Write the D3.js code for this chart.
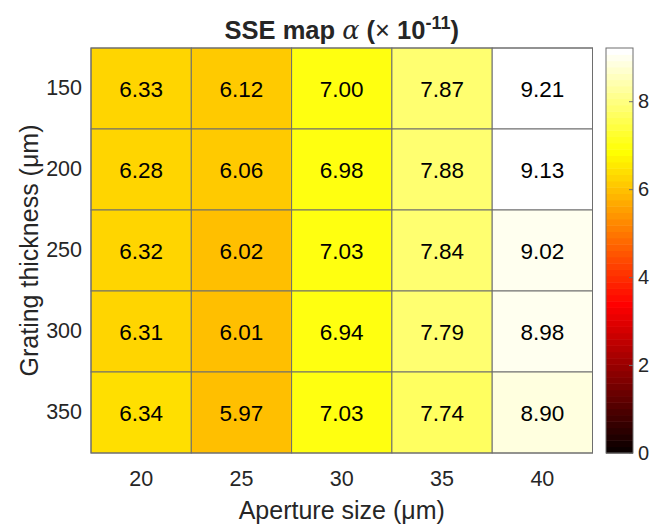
<!DOCTYPE html>
<html lang="en">
<head>
<meta charset="UTF-8">
<title>SSE map</title>
<style>
body{margin:0;background:#fff;}
svg text{font-family:"Liberation Sans",Arial,sans-serif;fill:#262626;}
</style>
</head>
<body>
<div id="chart"></div>
<script src="https://d3js.org/d3.v7.min.js"></script>
<script>
var apertures = ['20','25','30','35','40'];
var thickness = ['150','200','250','300','350'];
var sse = [
	[6.33, 6.12, 7.00, 7.87, 9.21],
	[6.28, 6.06, 6.98, 7.88, 9.13],
	[6.32, 6.02, 7.03, 7.84, 9.02],
	[6.31, 6.01, 6.94, 7.79, 8.98],
	[6.34, 5.97, 7.03, 7.74, 8.90]
];
var cbTicks = [0, 2, 4, 6, 8];

var W = 651, H = 524;
var plot = {left: 91, top: 48, right: 592.5, bottom: 453};
var cb = {left: 606, right: 633};

var svg = d3.select('#chart').append('svg')
	.attr('width', W).attr('height', H);

var cmax = d3.max(sse, function(r){ return d3.max(r); });

// matlab hot(64)
var m = 64, n = Math.floor(3 / 8 * m);
var hot = d3.range(m).map(function(i){
	var k = i + 1;
	var r = k <= n ? k / n : 1;
	var g = k <= n ? 0 : (k <= 2 * n ? (k - n) / n : 1);
	var b = k <= 2 * n ? 0 : (k - 2 * n) / (m - 2 * n);
	return d3.rgb(r * 255, g * 255, b * 255).toString();
});
function colorOf(v){
	var idx = Math.min(m - 1, Math.floor(v / cmax * m));
	return hot[Math.max(0, idx)];
}

var x = d3.scaleBand().domain(apertures).range([plot.left, plot.right]);
var y = d3.scaleBand().domain(thickness).range([plot.top, plot.bottom]);

var cells = [];
sse.forEach(function(row, i){
	row.forEach(function(v, j){
		cells.push({t: thickness[i], a: apertures[j], v: v});
	});
});

svg.append('g').selectAll('rect')
	.data(cells).enter().append('rect')
	.attr('x', function(d){ return x(d.a); })
	.attr('y', function(d){ return y(d.t); })
	.attr('width', x.bandwidth())
	.attr('height', y.bandwidth())
	.style('fill', function(d){ return colorOf(d.v); })
	.style('stroke', '#6e6e6e')
	.style('stroke-width', 1);

svg.append('g').selectAll('text')
	.data(cells).enter().append('text')
	.attr('x', function(d){ return x(d.a) + x.bandwidth() / 2; })
	.attr('y', function(d){ return y(d.t) + y.bandwidth() / 2; })
	.attr('dy', '0.36em')
	.attr('text-anchor', 'middle')
	.style('font-size', '22.5px')
	.style('fill', '#000')
	.text(function(d){ return d.v.toFixed(2); });

svg.append('rect')
	.attr('x', plot.left).attr('y', plot.top)
	.attr('width', plot.right - plot.left).attr('height', plot.bottom - plot.top)
	.style('fill', 'none').style('stroke', '#6e6e6e');

// axes
var xAxis = svg.append('g')
	.attr('transform', 'translate(0,' + plot.bottom + ')')
	.call(d3.axisBottom(x).tickSize(0).tickPadding(18));
xAxis.select('.domain').remove();
xAxis.selectAll('text').style('font-size', '21.5px').style('fill', '#262626');

var yAxis = svg.append('g')
	.attr('transform', 'translate(' + plot.left + ',0)')
	.call(d3.axisLeft(y).tickSize(0).tickPadding(9));
yAxis.select('.domain').remove();
yAxis.selectAll('text').style('font-size', '21.5px').style('fill', '#262626');

svg.append('text')
	.attr('x', (plot.left + plot.right) / 2).attr('y', 519)
	.attr('text-anchor', 'middle')
	.style('font-size', '25px')
	.text('Aperture size (μm)');

svg.append('text')
	.attr('transform', 'translate(38,' + (plot.top + plot.bottom) / 2 + ') rotate(-90)')
	.attr('text-anchor', 'middle')
	.style('font-size', '25px')
	.text('Grating thickness (μm)');

var title = svg.append('text')
	.attr('x', (plot.left + plot.right) / 2).attr('y', 39)
	.attr('text-anchor', 'middle')
	.style('font-size', '25.5px')
	.style('font-weight', 'bold');
title.append('tspan').text('SSE map ');
title.append('tspan').style('font-family', '"DejaVu Serif",serif').style('font-style', 'italic').style('font-weight', 'normal').text('α');
title.append('tspan').text(' (');
title.append('tspan').style('font-weight', 'normal').text('×');
title.append('tspan').text(' 10');
title.append('tspan').attr('dy', -10).style('font-size', '18px').text('-11');
title.append('tspan').attr('dy', 10).text(')');

// colorbar
var cy = d3.scaleLinear().domain([0, cmax]).range([plot.bottom, plot.top]);
svg.append('g').selectAll('rect')
	.data(hot).enter().append('rect')
	.attr('x', cb.left)
	.attr('y', function(d, i){ return cy((i + 1) / m * cmax); })
	.attr('width', cb.right - cb.left)
	.attr('height', function(d, i){ return cy(i / m * cmax) - cy((i + 1) / m * cmax) + 0.5; })
	.style('fill', function(d){ return d; });

svg.append('rect')
	.attr('x', cb.left).attr('y', plot.top)
	.attr('width', cb.right - cb.left).attr('height', plot.bottom - plot.top)
	.style('fill', 'none').style('stroke', '#6e6e6e');

var cbAxis = svg.append('g')
	.attr('transform', 'translate(' + cb.right + ',0)')
	.call(d3.axisRight(cy).tickValues(cbTicks).tickSize(-4).tickPadding(5));
cbAxis.select('.domain').remove();
cbAxis.selectAll('line').style('stroke', '#6e6e6e');
cbAxis.selectAll('text').style('font-size', '20px').style('fill', '#262626');
</script>
</body>
</html>
